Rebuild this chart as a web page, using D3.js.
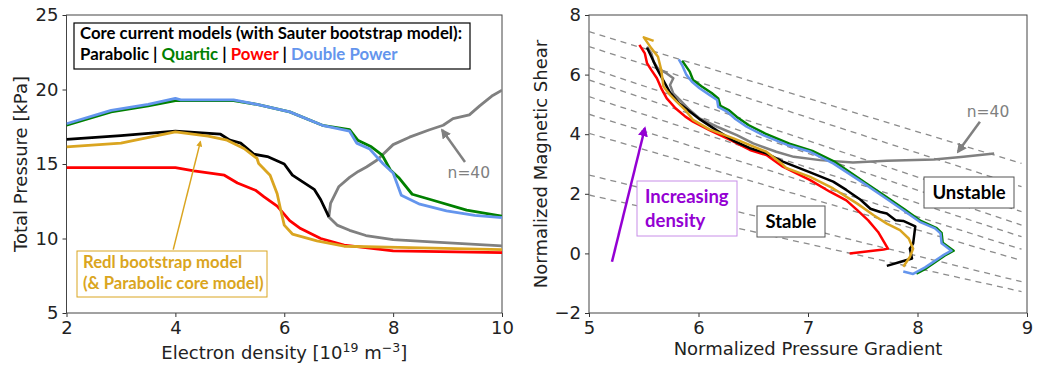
<!DOCTYPE html>
<html>
<head>
<meta charset="utf-8">
<script src="https://cdn.jsdelivr.net/npm/d3@7"></script>
<style>
body { margin: 0; background: #fff; }
text { font-family: "DejaVu Sans", sans-serif; }
.note { font-family: Lato, "Open Sans", sans-serif; font-weight: 700; }
</style>
</head>
<body>
<script>
//---- left panel: total pressure vs electron density ----
var pressureTicksX = [2, 4, 6, 8, 10],
    pressureTicksY = [5, 10, 15, 20, 25];

var parabolicP = [[2,16.65],[3,16.9],[4.0,17.2],[4.83,17.0],[5.0,16.6],[5.2,16.4],[5.44,15.66],[5.69,15.5],[6.0,15.0],[6.15,14.25],[6.55,13.3],[6.67,12.6],[6.82,11.45]];
var quarticP = [[2,17.6],[2.82,18.5],[3.5,18.9],[4.0,19.25],[4.1,19.25],[5.07,19.25],[5.5,19.0],[6.1,18.5],[6.7,17.6],[7.2,17.3],[7.35,16.6],[7.6,16.15],[7.8,15.6],[7.95,14.6],[8.1,14.1],[8.35,12.97],[8.7,12.6],[9.35,11.9],[10,11.5]];
var powerP = [[2,14.76],[4.0,14.76],[4.34,14.54],[4.9,14.25],[5.14,13.73],[5.47,13.24],[5.63,12.8],[5.87,12.17],[6.1,11.2],[6.3,10.67],[6.67,10.0],[7.1,9.55],[8.0,9.17],[10,9.05]];
var doublePowerP = [[2,17.7],[2.82,18.6],[3.5,19.0],[4.0,19.4],[4.1,19.3],[5.07,19.3],[5.5,19.0],[6.1,18.5],[6.7,17.6],[7.2,17.2],[7.33,16.4],[7.57,16.0],[7.82,15.0],[8.0,14.4],[8.15,12.9],[8.49,12.3],[8.98,11.85],[9.5,11.55],[10,11.4]];
var redlP = [[2,16.15],[3.0,16.4],[4.0,17.16],[4.6,16.87],[4.95,16.6],[5.26,16.04],[5.5,15.37],[5.53,15.03],[5.74,14.25],[5.87,13.0],[5.93,12.0],[6.0,10.9],[6.15,10.3],[6.6,9.84],[7.1,9.48],[8.1,9.4],[10,9.26]];
var n40P = [[10,9.5],[8.7,9.77],[8.0,9.93],[7.5,10.2],[7.2,10.55],[6.97,10.9],[6.82,11.45],[6.85,12.35],[7.0,13.47],[7.2,14.1],[7.36,14.5],[7.51,14.8],[7.7,15.25],[8.0,16.3],[8.3,16.8],[8.67,17.3],[8.92,17.6],[9.1,18.05],[9.4,18.3],[9.59,18.9],[9.83,19.6],[10,19.96]];

//---- right panel: shear vs pressure gradient ----
var shearTicksX = [5, 6, 7, 8, 9],
    shearTicksY = [-2, 0, 2, 4, 6, 8];

var parabolicS = [[5.53,6.9],[5.57,6.6],[5.62,6.2],[5.68,5.8],[5.74,5.4],[5.82,5.05],[5.92,4.76],[6.02,4.48],[6.17,4.12],[6.32,3.78],[6.47,3.53],[6.62,3.36],[6.77,3.08],[7.02,2.72],[7.23,2.41],[7.35,2.13],[7.48,1.8],[7.57,1.5],[7.66,1.39],[7.72,1.34],[7.8,1.11],[7.87,1.09],[7.98,0.91],[7.96,0.33],[7.93,0.16],[7.95,-0.17],[7.84,-0.29],[7.72,-0.42]];
var quarticS = [[5.85,6.47],[5.92,6.10],[5.95,5.82],[6.03,5.6],[6.12,5.38],[6.18,5.2],[6.2,4.95],[6.28,4.8],[6.35,4.58],[6.46,4.3],[6.61,4.02],[6.83,3.68],[7.04,3.44],[7.25,3.06],[7.52,2.38],[7.70,1.93],[7.88,1.48],[8.03,1.09],[8.17,0.86],[8.22,0.69],[8.23,0.36],[8.33,0.09],[8.25,-0.07],[8.08,-0.5],[7.99,-0.68]];
var powerS = [[5.46,7.0],[5.51,6.71],[5.53,6.38],[5.57,6.15],[5.62,5.88],[5.66,5.54],[5.71,5.2],[5.79,4.87],[5.88,4.59],[5.95,4.42],[6.1,4.14],[6.29,3.81],[6.47,3.47],[6.62,3.30],[6.77,2.91],[7.02,2.46],[7.2,2.07],[7.35,1.78],[7.45,1.45],[7.55,1.11],[7.64,0.72],[7.73,0.16],[7.69,0.13],[7.38,0.0]];
var doublePowerS = [[5.82,6.51],[5.85,6.32],[5.89,5.99],[5.94,5.76],[6.01,5.54],[6.1,5.32],[6.17,5.15],[6.18,4.92],[6.26,4.76],[6.33,4.53],[6.44,4.25],[6.59,3.97],[6.81,3.64],[7.02,3.41],[7.23,3.02],[7.51,2.35],[7.69,1.9],[7.87,1.45],[8.02,1.06],[8.16,0.84],[8.21,0.67],[8.22,0.34],[8.31,0.09],[8.24,-0.05],[8.07,-0.47],[7.96,-0.69],[7.87,-0.61]];
var redlS = [[5.59,7.13],[5.50,7.25],[5.57,6.88],[5.63,6.6],[5.66,6.15],[5.68,5.6],[5.74,5.32],[5.80,5.09],[5.88,4.81],[5.95,4.48],[6.1,4.16],[6.32,3.86],[6.62,3.41],[6.77,2.98],[6.80,2.87],[7.02,2.57],[7.23,2.18],[7.45,1.67],[7.6,1.28],[7.72,1.0],[7.84,0.78],[7.92,0.5],[7.96,0.16],[7.93,-0.12],[7.87,-0.45]];
var n40S = [[5.53,6.94],[5.57,6.71],[5.59,6.43],[5.63,6.21],[5.71,6.04],[5.77,5.88],[5.74,5.65],[5.77,5.37],[5.83,5.15],[5.92,4.81],[6.01,4.53],[6.17,4.25],[6.35,3.97],[6.5,3.69],[6.71,3.41],[6.87,3.24],[7.11,3.13],[7.41,3.05],[7.72,3.11],[8.15,3.15],[8.42,3.24],[8.70,3.35]];

//stability boundaries: shear at the left (x=5) and right (x=8.95) ends
var boundaryLeft = [7.44, 6.94, 6.23, 5.82, 5.26, 4.67, 4.03, 2.63, 1.96],
    boundaryRight = [3.02, 2.24, 1.40, 0.95, 0.56, 0.14, -0.24, -0.95, -1.28];

var modelNames = ['Parabolic', 'Quartic', 'Power', 'Double Power'],
    modelColors = ['#000000', '#008000', '#ff0000', '#6495ed'];

window.onload = drawFigure();

function drawFigure(){

    var svg = d3.select('body')
        .append('svg')
        .attr('width', 1038)
        .attr('height', 367);

    var defs = svg.append('defs');

    //arrow heads
    function addMarker(id, color){
        defs.append('marker')
            .attr('id', id)
            .attr('viewBox', '0 0 10 10')
            .attr('refX', 8).attr('refY', 5)
            .attr('markerWidth', 4).attr('markerHeight', 4)
            .attr('markerUnits', 'strokeWidth')
            .attr('orient', 'auto')
            .append('path')
            .attr('d', 'M0,0L10,5L0,10z')
            .attr('fill', color);
    }
    addMarker('arrGold', '#daa520');
    addMarker('arrGray', '#808080');
    addMarker('arrPurple', '#9400d3');

    //---------------- left panel ----------------
    var xL = d3.scaleLinear().domain([2, 10]).range([66.5, 502]),
        yL = d3.scaleLinear().domain([5, 25]).range([313, 15]);

    var left = svg.append('g');

    defs.append('clipPath').attr('id', 'clipL')
        .append('rect')
        .attr('x', xL(2)).attr('y', yL(25))
        .attr('width', xL(10) - xL(2)).attr('height', yL(5) - yL(25));

    drawAxes(left, xL, yL, pressureTicksX, pressureTicksY);

    var lineL = d3.line().x(function(d){ return xL(d[0]); }).y(function(d){ return yL(d[1]); });
    var curvesL = left.append('g').attr('clip-path', 'url(#clipL)');

    [[n40P, '#808080'], [quarticP, modelColors[1]], [doublePowerP, modelColors[3]],
     [powerP, modelColors[2]], [parabolicP, modelColors[0]], [redlP, '#daa520']]
        .forEach(function(c){
            curvesL.append('path')
                .attr('d', lineL(c[0]))
                .attr('fill', 'none')
                .attr('stroke', c[1])
                .attr('stroke-width', 2.8)
                .attr('stroke-linejoin', 'round');
        });

    //legend box
    left.append('rect')
        .attr('x', 74).attr('y', 23).attr('width', 396).attr('height', 46)
        .attr('fill', '#fff').attr('stroke', '#000').attr('stroke-width', 1.2);
    left.append('text').attr('class', 'note')
        .attr('x', 80).attr('y', 39)
        .attr('font-size', 16.8)
        .text('Core current models (with Sauter bootstrap model):');
    var leg = left.append('text').attr('class', 'note')
        .attr('x', 80).attr('y', 60)
        .attr('font-size', 16.8)
        .attr('xml:space', 'preserve');
    modelNames.forEach(function(name, i){
        if (i > 0) leg.append('tspan').attr('fill', '#000').text(' | ');
        leg.append('tspan').attr('fill', modelColors[i]).text(name);
    });

    //Redl annotation
    left.append('line')
        .attr('x1', xL(3.96)).attr('y1', yL(9.25))
        .attr('x2', xL(4.46)).attr('y2', yL(16.5))
        .attr('stroke', '#daa520').attr('stroke-width', 1.5)
        .attr('marker-end', 'url(#arrGold)');
    left.append('rect')
        .attr('x', 77).attr('y', 251).attr('width', 190).attr('height', 46)
        .attr('fill', '#fff').attr('stroke', '#daa520').attr('stroke-width', 1);
    left.append('text').attr('class', 'note')
        .attr('x', 83).attr('y', 267.5).attr('font-size', 16.7).attr('fill', '#daa520')
        .text('Redl bootstrap model');
    left.append('text').attr('class', 'note')
        .attr('x', 83).attr('y', 289).attr('font-size', 16.7).attr('fill', '#daa520')
        .text('(& Parabolic core model)');

    //n=40 label
    left.append('line')
        .attr('x1', xL(9.32)).attr('y1', yL(15.13))
        .attr('x2', xL(8.9)).attr('y2', yL(17.28))
        .attr('stroke', '#808080').attr('stroke-width', 2.5)
        .attr('marker-end', 'url(#arrGray)');
    left.append('text')
        .attr('x', xL(9.0)).attr('y', yL(14.46) + 6)
        .attr('font-size', 15.5).attr('fill', '#808080')
        .text('n=40');

    //axis titles
    left.append('text')
        .attr('transform', 'translate(26.5,' + ((yL(5) + yL(25)) / 2) + ') rotate(-90)')
        .attr('text-anchor', 'middle').attr('font-size', 18).attr('fill', '#222')
        .text('Total Pressure [kPa]');
    var xt = left.append('text')
        .attr('x', (xL(2) + xL(10)) / 2).attr('y', 359)
        .attr('text-anchor', 'middle').attr('font-size', 18).attr('fill', '#222');
    xt.append('tspan').text('Electron density [10');
    xt.append('tspan').attr('font-size', 12.5).attr('dy', -7).text('19');
    xt.append('tspan').attr('dy', 7).text(' m');
    xt.append('tspan').attr('font-size', 12.5).attr('dy', -7).text('\u22123');
    xt.append('tspan').attr('dy', 7).text(']');

    //---------------- right panel ----------------
    var xR = d3.scaleLinear().domain([5, 9]).range([589, 1027]),
        yR = d3.scaleLinear().domain([-2, 8]).range([313, 15]);

    var right = svg.append('g');

    defs.append('clipPath').attr('id', 'clipR')
        .append('rect')
        .attr('x', xR(5)).attr('y', yR(8))
        .attr('width', xR(9) - xR(5)).attr('height', yR(-2) - yR(8));

    drawAxes(right, xR, yR, shearTicksX, shearTicksY);

    //dashed stability boundaries
    var bounds = right.append('g').attr('clip-path', 'url(#clipR)');
    bounds.selectAll('line')
        .data(boundaryLeft)
        .enter()
        .append('line')
        .attr('x1', xR(5))
        .attr('y1', function(d){ return yR(d); })
        .attr('x2', xR(8.95))
        .attr('y2', function(d, i){ return yR(boundaryRight[i]); })
        .attr('stroke', '#8c8c8c')
        .attr('stroke-width', 1.3)
        .attr('stroke-dasharray', '6,5');

    var lineR = d3.line().x(function(d){ return xR(d[0]); }).y(function(d){ return yR(d[1]); });
    var curvesR = right.append('g').attr('clip-path', 'url(#clipR)');

    [[n40S, '#808080'], [powerS, modelColors[2]], [parabolicS, modelColors[0]], [redlS, '#daa520'],
     [quarticS, modelColors[1]], [doublePowerS, modelColors[3]]]
        .forEach(function(c){
            curvesR.append('path')
                .attr('d', lineR(c[0]))
                .attr('fill', 'none')
                .attr('stroke', c[1])
                .attr('stroke-width', 2.5)
                .attr('stroke-linejoin', 'round');
        });

    //increasing density arrow + box
    right.append('line')
        .attr('x1', xR(5.21)).attr('y1', yR(-0.28))
        .attr('x2', xR(5.51)).attr('y2', yR(4.2))
        .attr('stroke', '#9400d3').attr('stroke-width', 2.5)
        .attr('marker-end', 'url(#arrPurple)');
    right.append('rect')
        .attr('x', 637).attr('y', 181).attr('width', 100).attr('height', 55)
        .attr('fill', '#fff').attr('stroke', '#c88ee8').attr('stroke-width', 1);
    right.append('text').attr('class', 'note')
        .attr('x', 645).attr('y', 203).attr('font-size', 18.5).attr('fill', '#9400d3')
        .text('Increasing');
    right.append('text').attr('class', 'note')
        .attr('x', 645).attr('y', 226.5).attr('font-size', 18.5).attr('fill', '#9400d3')
        .text('density');

    //stable / unstable boxes
    right.append('rect')
        .attr('x', 757).attr('y', 206).attr('width', 68).attr('height', 31)
        .attr('fill', '#fff').attr('stroke', '#555').attr('stroke-width', 1);
    right.append('text').attr('class', 'note')
        .attr('x', 791).attr('y', 227.5).attr('text-anchor', 'middle').attr('font-size', 18.5)
        .text('Stable');
    right.append('rect')
        .attr('x', 924).attr('y', 177).attr('width', 90).attr('height', 31)
        .attr('fill', '#fff').attr('stroke', '#555').attr('stroke-width', 1);
    right.append('text').attr('class', 'note')
        .attr('x', 969).attr('y', 198.5).attr('text-anchor', 'middle').attr('font-size', 18.5)
        .text('Unstable');

    //n=40 label
    right.append('line')
        .attr('x1', xR(8.57)).attr('y1', yR(4.42))
        .attr('x2', xR(8.37)).attr('y2', yR(3.41))
        .attr('stroke', '#808080').attr('stroke-width', 2.5)
        .attr('marker-end', 'url(#arrGray)');
    right.append('text')
        .attr('x', xR(8.45)).attr('y', yR(4.79) + 6)
        .attr('font-size', 15.5).attr('fill', '#808080')
        .text('n=40');

    //axis titles
    right.append('text')
        .attr('transform', 'translate(547,' + ((yR(-2) + yR(8)) / 2) + ') rotate(-90)')
        .attr('text-anchor', 'middle').attr('font-size', 18).attr('fill', '#222')
        .text('Normalized Magnetic Shear');
    right.append('text')
        .attr('x', (xR(5) + xR(9)) / 2).attr('y', 355)
        .attr('text-anchor', 'middle').attr('font-size', 18).attr('fill', '#222')
        .text('Normalized Pressure Gradient');
};

//frame + ticks for one panel
function drawAxes(g, x, y, xticks, yticks){
    var xAxis = g.append('g')
        .attr('transform', 'translate(0,' + y.range()[0] + ')')
        .call(d3.axisBottom(x).tickValues(xticks).tickFormat(d3.format('d')).tickSize(4).tickPadding(4));
    var yAxis = g.append('g')
        .attr('transform', 'translate(' + x.range()[0] + ',0)')
        .call(d3.axisLeft(y).tickValues(yticks).tickFormat(d3.format('d')).tickSize(4).tickPadding(4));

    [xAxis, yAxis].forEach(function(a){
        a.select('.domain').remove();
        a.selectAll('line').attr('stroke', '#333');
        a.selectAll('text')
            .attr('font-family', 'DejaVu Sans')
            .attr('font-size', 18)
            .attr('fill', '#222');
    });

    g.append('rect')
        .attr('x', x.range()[0]).attr('y', y.range()[1])
        .attr('width', x.range()[1] - x.range()[0])
        .attr('height', y.range()[0] - y.range()[1])
        .attr('fill', 'none')
        .attr('stroke', '#444')
        .attr('stroke-width', 1);
}
</script>
</body>
</html>
